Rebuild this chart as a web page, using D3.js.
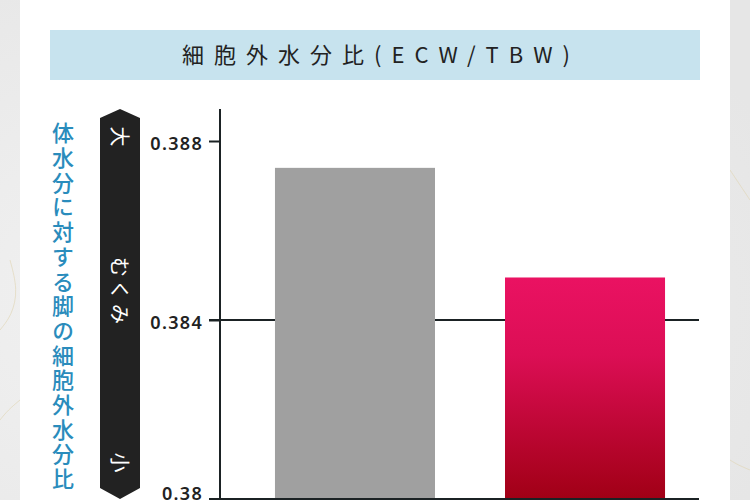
<!DOCTYPE html>
<html>
<head>
<meta charset="utf-8">
<script src="https://cdn.jsdelivr.net/npm/d3@7"></script>
<style>
body{margin:0;background:#ececec;}
svg{display:block;font-family:"Noto Sans CJK JP","Noto Sans",sans-serif;}
</style>
</head>
<body>
<svg id="chart" width="750" height="500"></svg>
<script>
let title="細胞外水分比(ECW/TBW)"
let sideLabel="体水分に対する脚の細胞外水分比"
let arrowLabels=["大","むくみ","小"]
let categories=["before","after"]
let values=[0.3874,0.38495]
let barColors=["#a0a0a0","url(#redGrad)"]
let tickValues=[0.38,0.384,0.388]
let tickLabels=["0.38","0.384","0.388"]
let gridValues=[0.38,0.384]

let svg=d3.select("#chart")
let defs=svg.append("defs")

// marble-ish background
let mg=defs.append("radialGradient").attr("id","marble").attr("cx","0.3").attr("cy","0.6").attr("r","0.8")
mg.append("stop").attr("offset","0").attr("stop-color","#f3f3f3")
mg.append("stop").attr("offset","1").attr("stop-color","#e6e6e6")
svg.append("rect").attr("width",750).attr("height",500).attr("fill","url(#marble)")
let veins=[
	[[0,330],[12,315],[18,290],[10,260]],
	[[0,420],[8,410],[20,400]],
	[[730,170],[740,185],[750,200]],
	[[730,460],[738,465],[750,470]]
]
svg.selectAll("path.vein").data(veins).enter().append("path")
	.attr("class","vein")
	.attr("d",d3.line().curve(d3.curveBasis))
	.attr("fill","none").attr("stroke","#e0d4b0").attr("stroke-width",1).attr("opacity",0.6)

svg.append("rect").attr("x",20).attr("y",0).attr("width",710).attr("height",500).attr("fill","#fff")

// title box
svg.append("rect").attr("x",50).attr("y",30).attr("width",650).attr("height",50).attr("fill","#c7e3ee")
svg.append("text").attr("x",381).attr("y",63).attr("text-anchor","middle")
	.attr("font-size",22).attr("letter-spacing",10).attr("fill","#222")
	.text(title)

// vertical blue label
svg.append("text").attr("x",63).attr("y",122)
	.attr("font-size",22).attr("font-weight",500).attr("letter-spacing",2.7).attr("fill","#2a8cbc")
	.style("writing-mode","vertical-rl")
	.text(sideLabel)

// black arrow bar
let ax0=100, ax1=140
svg.append("path")
	.attr("d",`M${ax0},118 L120,109 L${ax1},118 L${ax1},488 L120,499 L${ax0},488 Z`)
	.attr("fill","#222")
let arrowPos=[138,292,464]
svg.selectAll("text.arrow").data(arrowLabels).enter().append("text")
	.attr("class","arrow")
	.attr("transform",(d,i)=>`translate(119,${arrowPos[i]}) rotate(90)`)
	.attr("text-anchor","middle").attr("dy","0.36em")
	.attr("font-size",20).attr("letter-spacing",3).attr("fill","#fff")
	.text(d=>d)

// scales
let y=d3.scaleLinear().domain([0.38,0.388]).range([499,141])
let x=d3.scaleBand().domain(categories).range([240,700]).paddingInner(70/230).paddingOuter(0.152)

let rg=defs.append("linearGradient").attr("id","redGrad").attr("x1",0).attr("y1",0).attr("x2",0).attr("y2",1)
rg.append("stop").attr("offset","0").attr("stop-color","#ea1262")
rg.append("stop").attr("offset","0.35").attr("stop-color","#dc0e55")
rg.append("stop").attr("offset","1").attr("stop-color","#a10016")

// gridlines
svg.selectAll("line.grid").data(gridValues).enter().append("line")
	.attr("class","grid")
	.attr("x1",209).attr("x2",699)
	.attr("y1",d=>y(d)).attr("y2",d=>y(d))
	.attr("stroke","#1b2224").attr("stroke-width",2)

// bars
svg.selectAll("rect.bar").data(values).enter().append("rect")
	.attr("class","bar")
	.attr("x",(d,i)=>x(categories[i]))
	.attr("width",x.bandwidth())
	.attr("y",d=>y(d))
	.attr("height",d=>y(0.38)-y(d)-1)
	.attr("fill",(d,i)=>barColors[i])

// y axis
let yAxis=d3.axisLeft(y).tickValues(tickValues).tickSize(11).tickPadding(6)
	.tickFormat((d,i)=>tickLabels[i])
let g=svg.append("g").attr("transform","translate(220,0)").call(yAxis)
g.select(".domain").remove()
g.append("line").attr("x1",0).attr("x2",0).attr("y1",109).attr("y2",500)
	.attr("stroke","#1b2224").attr("stroke-width",2)
g.selectAll(".tick line").attr("stroke","#1b2224").attr("stroke-width",2)
g.selectAll(".tick text").attr("fill","#222").attr("font-size",18).attr("font-weight",600)
	.attr("letter-spacing",1.3).attr("font-family","\"Noto Sans\",sans-serif")
	.attr("dy",(d,i)=>i==0?"0.05em":"0.45em")
</script>
</body>
</html>
